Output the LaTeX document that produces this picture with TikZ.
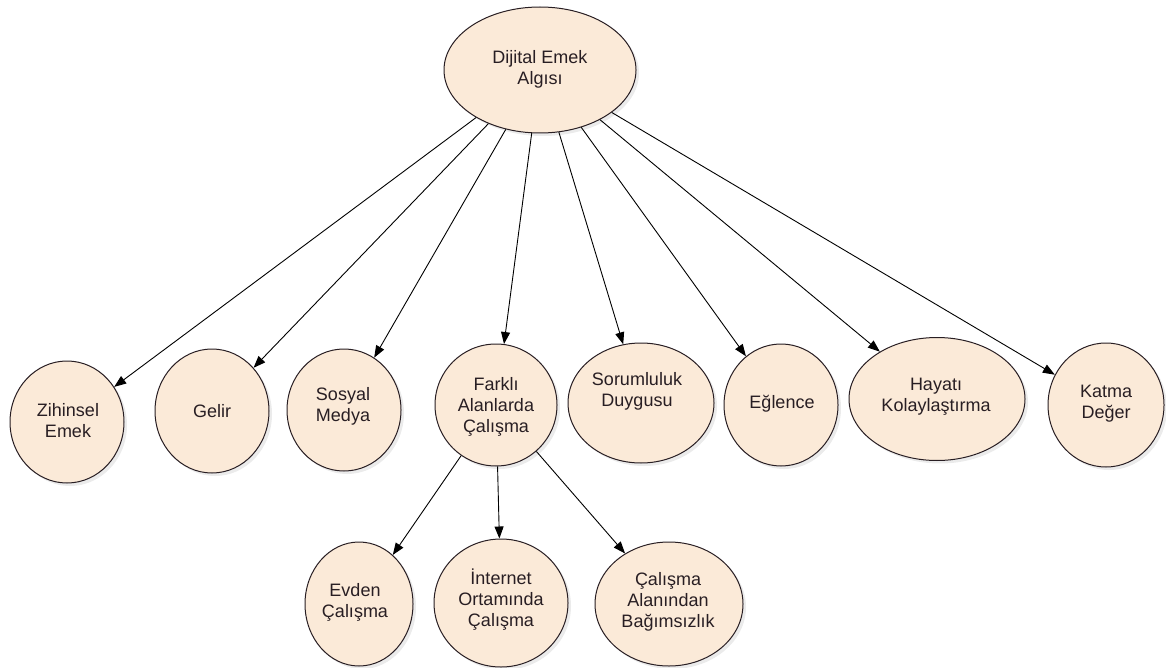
\documentclass[tikz,border=0pt]{standalone}
\usepackage{fontspec}
\setmainfont{Liberation Sans}
\usetikzlibrary{arrows.meta,shapes.geometric,shadows}
\definecolor{peach}{RGB}{251,234,216}
\definecolor{ink}{RGB}{40,30,35}
\begin{document}
\begin{tikzpicture}[x=1pt,y=-1pt,
  bub/.style={ellipse, draw=ink, line width=1pt, fill=peach, inner sep=0pt,
    drop shadow={opacity=0.16, shadow xshift=3pt, shadow yshift=-3pt}},
  txt/.style={align=center, inner sep=0pt, text=ink, font=\fontsize{18}{21}\selectfont},
  arr/.style={draw=black, line width=0.9pt, -{Triangle[length=12pt,width=9pt]}}]
\useasboundingbox (0,0) rectangle (1166,668);
% nodes
\node[bub, minimum width=192pt, minimum height=126pt] (top) at (540,70) {};
\node[txt] (top-t) at (540,69) {Dijital Emek\\Algısı};

\node[bub, minimum width=114pt, minimum height=122pt] (zih) at (67,422) {};
\node[txt] (zih-t) at (68,421) {Zihinsel\\Emek};

\node[bub, minimum width=114pt, minimum height=124pt] (gel) at (212,411) {};
\node[txt] (gel-t) at (212,411) {Gelir};

\node[bub, minimum width=114pt, minimum height=122pt] (sos) at (344,410) {};
\node[txt] (sos-t) at (343,406) {Sosyal\\Medya};

\node[bub, minimum width=122pt, minimum height=122pt] (far) at (496,405) {};
\node[txt] (far-t) at (496,407) {Farklı\\Alanlarda\\Çalışma};

\node[bub, minimum width=146pt, minimum height=120pt] (sor) at (641,403) {};
\node[txt] (sor-t) at (637,391) {Sorumluluk\\Duygusu};

\node[bub, minimum width=114pt, minimum height=122pt] (egl) at (781,405) {};
\node[txt] (egl-t) at (782,404) {Eğlence};

\node[bub, minimum width=176pt, minimum height=123pt] (hay) at (937,399) {};
\node[txt] (hay-t) at (936,397) {Hayatı\\Kolaylaştırma};

\node[bub, minimum width=116pt, minimum height=124pt] (kat) at (1106,405) {};
\node[txt] (kat-t) at (1106,404) {Katma\\Değer};

\node[bub, minimum width=108pt, minimum height=124pt] (evd) at (359,604) {};
\node[txt] (evd-t) at (355,602) {Evden\\Çalışma};

\node[bub, minimum width=134pt, minimum height=128pt] (int) at (501,603) {};
\node[txt] (int-t) at (501,600) {İnternet\\Ortamında\\Çalışma};

\node[bub, minimum width=148pt, minimum height=124pt] (cal) at (669,604) {};
\node[txt] (cal-t) at (668,602) {Çalışma\\Alanından\\Bağımsızlık};

% connectors
\foreach \c in {zih,gel,sos,far,sor,egl,hay,kat}
  \draw[arr] (top) -- (\c);
\foreach \c in {evd,int,cal}
  \draw[arr] (far) -- (\c);
\end{tikzpicture}
\end{document}
